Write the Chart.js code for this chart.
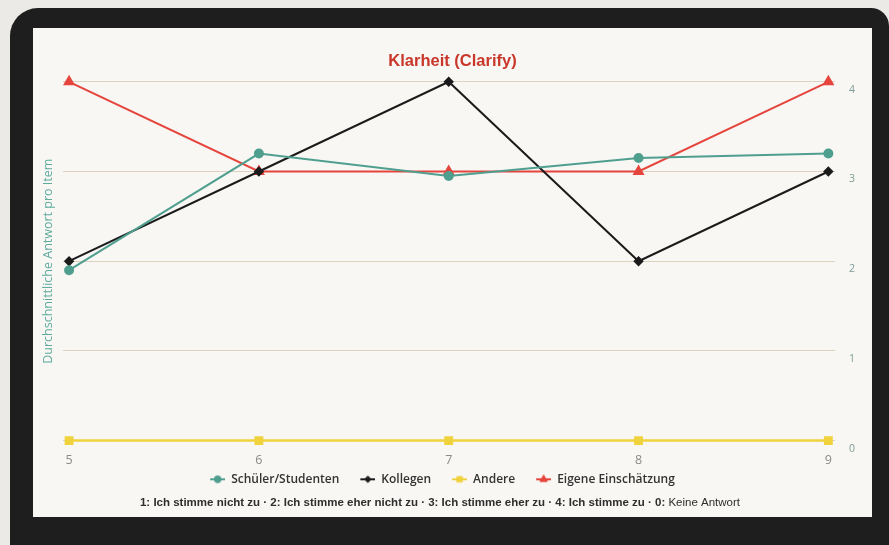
<!DOCTYPE html>
<html>
<head>
<meta charset="utf-8">
<script src="https://cdn.jsdelivr.net/npm/chart.js@4/dist/chart.umd.min.js"></script>
<style>
  html, body { margin: 0; padding: 0; width: 889px; height: 545px; overflow: hidden; background: #eceae6; }
  #frame { position: absolute; left: 10px; top: 8px; right: 0; bottom: 0; background: #1e1e1e;
           border-top-left-radius: 28px; border-top-right-radius: 18px; }
  #card  { position: absolute; left: 33px; top: 28px; width: 839px; height: 489px; background: #f8f7f4; }
  #wrap  { position: absolute; left: 0; top: 0; width: 889px; height: 545px; }
</style>
</head>
<body>
<div id="frame"></div>
<div id="card"></div>
<div id="wrap"><canvas id="c" width="889" height="545"></canvas></div>
<script>
// Items on the x axis
const items = [5, 6, 7, 8, 9];
// Average answer per item for each respondent group
const schueler = [1.9, 3.2, 2.95, 3.15, 3.2];
const kollegen = [2, 3, 4, 2, 3];
const andere   = [0, 0, 0, 0, 0];
const eigene   = [4, 3, 3, 3, 4];
// Axis ticks
const yTicks = [0, 1, 2, 3, 4];
const seriesNames = ['Schüler/Studenten', 'Kollegen', 'Andere', 'Eigene Einschätzung'];
const chartTitle = 'Klarheit (Clarify)';
const yTitle = 'Durchschnittliche Antwort pro Item';
const footBold = '1: Ich stimme nicht zu · 2: Ich stimme eher nicht zu · 3: Ich stimme eher zu · 4: Ich stimme zu · 0:';
const footRegular = ' Keine Antwort';

const colors = ['#4f9f8f', '#1b1b1b', '#f0d23c', '#e5453c'];
const styles = ['circle', 'rectRot', 'rect', 'triangle'];
const radii  = [4, 3.8, 4.5, 5];
const seriesValues = [schueler, kollegen, andere, eigene];

const datasets = seriesValues.map((vals, i) => ({
  label: seriesNames[i],
  data: vals.map((v, j) => ({ x: items[j], y: v })),
  borderColor: colors[i],
  backgroundColor: colors[i],
  pointBackgroundColor: colors[i],
  pointBorderColor: colors[i],
  pointStyle: styles[i],
  pointRadius: radii[i],
  borderWidth: i === 2 ? 2.5 : 2,
  tension: 0,
  clip: false
}));

// Legend swatch: empty lead-in space, then a short line with the series marker on it
const SW_GAP = 15, SW_LINE = 15;
function swatch(color, style, r) {
  const c = document.createElement('canvas');
  c.width = SW_GAP + SW_LINE; c.height = 12;
  const g = c.getContext('2d');
  g.strokeStyle = color; g.lineWidth = 2;
  g.beginPath(); g.moveTo(SW_GAP, 6); g.lineTo(SW_GAP + SW_LINE, 6); g.stroke();
  g.fillStyle = color; g.strokeStyle = color; g.lineWidth = 1;
  Chart.helpers.drawPoint(g, { pointStyle: style, radius: r * 0.85, borderWidth: 1, rotation: 0 }, SW_GAP + SW_LINE / 2, 6);
  return c;
}

const fixTicks = vals => scale => { scale.ticks = vals.map(v => ({ value: v })); };

// Answer key under the legend
const footnote = {
  id: 'footnote',
  afterDraw(chart) {
    const ctx = chart.ctx;
    ctx.save();
    const fb = 'bold 11.5px "Liberation Sans Narrow", "Liberation Sans", Arial, sans-serif';
    const fr = '11.5px "Liberation Sans Narrow", "Liberation Sans", Arial, sans-serif';
    ctx.font = fb; const wb = ctx.measureText(footBold).width;
    ctx.font = fr; const wr = ctx.measureText(footRegular).width;
    const x0 = 440 - (wb + wr) / 2, y = 503;
    ctx.fillStyle = '#2e2e2e';
    ctx.textBaseline = 'middle';
    ctx.textAlign = 'left';
    ctx.font = fb; ctx.fillText(footBold, x0, y);
    ctx.font = fr; ctx.fillText(footRegular, x0 + wb, y);
    ctx.restore();
  }
};

// Nudge the legend row a little to the left
const legendShift = {
  id: 'legendShift',
  afterLayout(chart) {
    if (chart.legend) { chart.legend.left -= 14; chart.legend.right -= 14; }
  }
};

new Chart(document.getElementById('c'), {
  type: 'line',
  data: { datasets },
  plugins: [footnote, legendShift],
  options: {
    responsive: false,
    devicePixelRatio: 1,
    animation: false,
    layout: { padding: { left: 33, right: 17, top: 28, bottom: 49.7 } },
    plugins: {
      title: {
        display: true, text: chartTitle, color: '#c9372b',
        font: { family: '"Liberation Sans", Arial, sans-serif', size: 16.5, weight: 'bold' },
        padding: { top: 24, bottom: 10 }
      },
      legend: {
        position: 'bottom',
        fullSize: false,
        labels: {
          usePointStyle: true, pointStyleWidth: SW_GAP + SW_LINE, boxHeight: 12,
          padding: 6, color: '#333333',
          font: { family: '"Open Sans", sans-serif', size: 12, weight: '600' },
          generateLabels: chart => chart.data.datasets.map((d, i) => ({
            text: d.label, datasetIndex: i, hidden: false, lineWidth: 0,
            fillStyle: colors[i], strokeStyle: colors[i], fontColor: '#333333',
            pointStyle: swatch(colors[i], styles[i], radii[i])
          }))
        }
      },
      tooltip: { enabled: false }
    },
    scales: {
      x: {
        type: 'linear', min: 4.968, max: 9.035,
        afterBuildTicks: fixTicks(items),
        afterFit: s => { s.height = 26.7; },
        grid: { display: false, drawTicks: false }, border: { display: false },
        ticks: { color: '#8a8a8a', padding: 12, font: { family: '"Open Sans", sans-serif', size: 12.5 } }
      },
      y: {
        position: 'left', min: 0, max: 4,
        afterBuildTicks: fixTicks(yTicks),
        afterFit: s => { s.width = 30; },
        grid: { color: '#ddd1c0', lineWidth: 1, drawTicks: false }, border: { display: false },
        ticks: { display: false },
        title: { display: true, text: yTitle, color: '#5eab9e',
                 font: { family: '"Open Sans", sans-serif', size: 12.5 }, padding: { top: 8, bottom: 0 } }
      },
      y2: {
        position: 'right', min: 0, max: 4,
        afterBuildTicks: fixTicks(yTicks),
        afterFit: s => { s.width = 37; },
        grid: { display: false, drawTicks: false }, border: { display: false },
        ticks: { color: '#7f9c96', padding: 14, labelOffset: 8, font: { family: '"Open Sans", sans-serif', size: 10.5 } }
      }
    }
  }
});
</script>
</body>
</html>
